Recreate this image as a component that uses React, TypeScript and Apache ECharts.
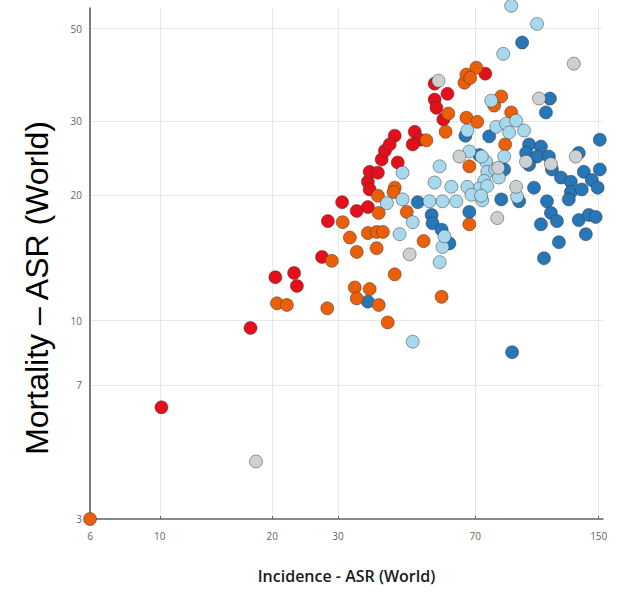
import React, { useEffect, useRef } from "react";
import * as echarts from "echarts";

const xTickValues = [6.5, 10, 20, 30, 70, 150];
const xTickLabels = ["6", "10", "20", "30", "70", "150"];
const yTickValues = [3.35, 7, 10, 20, 30, 50];
const yTickLabels = ["3", "7", "10", "20", "30", "50"];
const xMin = 6.5;
const xMax = 154;
const yMin = 3.35;
const yMax = 56;

const redPoints: [number, number][] = [
  [10.1, 6.2], [17.5, 9.6], [20.4, 12.7], [22.9, 13.0], [23.3, 12.1], [27.2, 14.2],
  [28.2, 17.3], [30.8, 19.2], [33.7, 18.3], [36.1, 18.7], [36.1, 21.5], [36.5, 20.6],
  [36.5, 22.7], [38.4, 22.6], [39.3, 24.3], [40.1, 25.5], [42.6, 27.7], [41.3, 26.4],
  [43.4, 23.9], [48.2, 28.3], [49.7, 27.1], [47.6, 26.4], [54.5, 36.9], [59.0, 34.9],
  [54.5, 33.8], [55.1, 32.3], [57.5, 30.3], [74.5, 39.0],
];

const orangePoints: [number, number][] = [
  [6.5, 3.35], [20.6, 11.0], [21.9, 10.9], [28.1, 10.7], [28.9, 13.9], [30.9, 17.2],
  [32.3, 15.8], [33.7, 14.6], [36.1, 16.2], [38.1, 16.3], [39.6, 16.3], [38.1, 14.9],
  [38.6, 18.1], [38.4, 19.9], [42.6, 20.8], [42.3, 20.3], [45.9, 18.2], [50.9, 15.5],
  [42.6, 12.9], [33.3, 12.0], [36.5, 11.9], [33.7, 11.3], [38.6, 10.9], [40.8, 9.9],
  [56.9, 11.4], [51.8, 27.0], [58.3, 28.3], [59.3, 31.3], [65.5, 37.1], [66.3, 38.8],
  [70.5, 40.3], [67.9, 38.1], [66.3, 30.6], [70.9, 29.9], [78.7, 32.7], [82.2, 34.4],
  [87.4, 31.5], [84.2, 26.4], [67.5, 23.4], [67.5, 17.0],
];

const lightBluePoints: [number, number][] = [
  [87.4, 56.7], [102.5, 51.3], [83.2, 43.5], [77.3, 33.6], [66.7, 28.5], [79.7, 29.1],
  [84.7, 29.6], [90.1, 30.1], [86.3, 28.2], [94.6, 28.5], [83.7, 24.7], [56.2, 23.4],
  [67.5, 25.4], [74.9, 24.0], [75.4, 22.7], [74.0, 21.6], [71.8, 20.7], [73.1, 19.4],
  [44.7, 22.6], [54.5, 21.4], [60.4, 20.9], [66.7, 20.9], [68.4, 20.0], [90.6, 19.8],
  [40.6, 19.1], [44.7, 19.5], [52.8, 19.3], [57.2, 19.3], [62.3, 19.3], [47.6, 17.2],
  [43.9, 16.1], [57.2, 15.0], [56.2, 13.8], [47.6, 8.9], [57.9, 15.9],
  [72.9, 24.7], [79.2, 23.0], [75.4, 21.0], [72.6, 19.9], [81.0, 22.0],
];

const grayPoints: [number, number][] = [
  [18.1, 4.6], [55.8, 37.5], [128.6, 41.2], [103.8, 34.0], [63.5, 24.7], [80.7, 23.2],
  [95.8, 24.0], [111.7, 23.7], [130.2, 24.7], [90.1, 20.9], [80.2, 17.6], [46.7, 14.4],
];

const darkBluePoints: [number, number][] = [
  [93.5, 46.3], [111.0, 34.0], [108.3, 31.5], [151.0, 27.1], [76.3, 27.6], [65.9, 27.7],
  [71.8, 24.9], [83.7, 23.0], [97.6, 26.4], [105.0, 26.1], [95.8, 25.2], [102.5, 24.7],
  [110.3, 24.7], [97.6, 23.6], [112.4, 23.0], [132.6, 25.2], [118.8, 22.0], [126.3, 21.5],
  [136.8, 22.7], [151.0, 23.0], [143.7, 21.7], [126.3, 20.3], [135.1, 20.6], [149.0, 20.8],
  [124.7, 19.5], [100.6, 20.8], [91.8, 19.3], [82.2, 19.5], [109.0, 19.3], [111.7, 18.1],
  [105.0, 17.0], [115.9, 17.3], [132.6, 17.4], [141.1, 17.9], [147.2, 17.7], [138.5, 16.1],
  [117.3, 15.4], [107.0, 14.1], [49.1, 19.2], [53.5, 17.9], [53.8, 17.1], [56.9, 16.5],
  [59.7, 15.3], [67.5, 18.2], [36.1, 11.1], [87.9, 8.4],
];

const groups = [
  { name: "Dark blue", color: "#2676b8", points: darkBluePoints },
  { name: "Red", color: "#e3101b", points: redPoints },
  { name: "Orange", color: "#ea5f08", points: orangePoints },
  { name: "Light blue", color: "#a8d8ee", points: lightBluePoints },
  { name: "Gray", color: "#cdd0d2", points: grayPoints },
];

const lg = (v: number) => Math.log10(v);

const labelFor = (ticks: number[], labels: string[]) => (v: number) => {
  const i = ticks.findIndex((t) => Math.abs(lg(t) - v) < 1e-6);
  return i >= 0 ? labels[i] : "";
};

export default function App() {
  const ref = useRef<HTMLDivElement>(null);

  useEffect(() => {
    document.body.style.margin = "0";
    const chart = echarts.init(ref.current!, undefined, { renderer: "svg" });
    const tickFont = { fontFamily: "Open Sans", fontSize: 10, color: "#666" };
    chart.setOption({
      animation: false,
      backgroundColor: "#ffffff",
      grid: { left: 90, right: 14, top: 8, bottom: 73 },
      xAxis: {
        type: "value",
        min: lg(xMin),
        max: lg(xMax),
        name: "Incidence - ASR (World)",
        nameLocation: "middle",
        nameGap: 49,
        nameTextStyle: {
          fontFamily: "Open Sans",
          fontSize: 16,
          fontWeight: 600,
          color: "#1a1a1a",
        },
        axisLine: { show: true, lineStyle: { color: "#666", width: 1.5 } },
        axisTick: {
          show: true,
          inside: true,
          length: 3,
          customValues: xTickValues.map(lg),
          lineStyle: { color: "#666" },
        },
        axisLabel: {
          ...tickFont,
          margin: 12,
          customValues: xTickValues.map(lg),
          formatter: labelFor(xTickValues, xTickLabels),
        },
        splitLine: { show: true, lineStyle: { color: "#e8e8e8", width: 1 } },
      },
      yAxis: {
        type: "value",
        min: lg(yMin),
        max: lg(yMax),
        axisLine: { show: true, lineStyle: { color: "#555", width: 1.5 } },
        axisTick: { show: false, customValues: yTickValues.map(lg) },
        axisLabel: {
          ...tickFont,
          margin: 8,
          customValues: yTickValues.map(lg),
          formatter: labelFor(yTickValues, yTickLabels),
        },
        splitLine: { show: true, lineStyle: { color: "#e8e8e8", width: 1 } },
      },
      graphic: [
        {
          type: "text",
          x: 37,
          y: 288,
          rotation: Math.PI / 2,
          style: {
            text: "Mortality – ASR (World)",
            fontFamily: "Liberation Sans",
            fontSize: 32,
            fill: "#000",
            align: "center",
            verticalAlign: "middle",
          },
        },
      ],
      series: groups.map((g) => ({
        name: g.name,
        type: "scatter",
        clip: false,
        symbolSize: 13,
        itemStyle: {
          color: g.color,
          opacity: 1,
          borderColor: "rgba(50,50,50,0.6)",
          borderWidth: 0.8,
        },
        data: g.points.map(([x, y]) => [lg(x), lg(y)]),
      })),
    });
    return () => chart.dispose();
  }, []);

  return (
    <div
      ref={ref}
      style={{ position: "absolute", left: 0, top: 0, width: 617, height: 592 }}
    />
  );
}
